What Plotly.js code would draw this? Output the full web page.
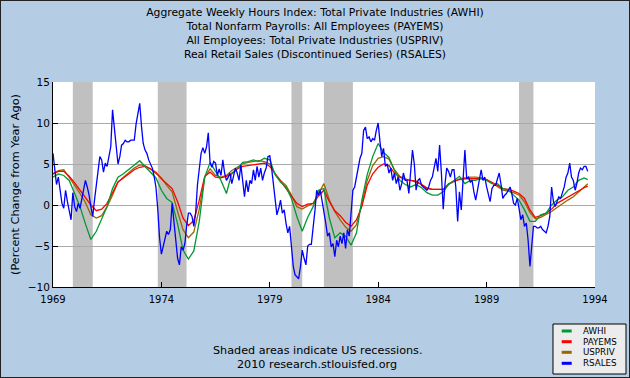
<!DOCTYPE html>
<html><head><meta charset="utf-8">
<script src="https://cdn.plot.ly/plotly-3.0.1.min.js"></script>
<style>
html,body{margin:0;padding:0;background:#fff;}
#chart{width:628px;height:376px;border:1px solid #222;}
</style></head>
<body><div id="chart"></div>
<script>
// ---- DATA ----
const seriesNames = ['AWHI','PAYEMS','USPRIV','RSALES'];
const seriesColors = ['#009933','#ff0000','#996600','#0000ff'];
// RSALES monthly, Jan 1969 .. Sep 1993 (percent change from year ago)
const rsales = [
 6.3,4.0,2.5,3.4,2.0,0.2,-0.4,1.8,0.4,-0.6,-1.8,1.5,
 -0.2,-0.8,0.2,-0.4,0.6,1.6,3.0,2.2,1.2,-0.2,-1.4,0.6,
 2.5,4.3,5.9,5.5,4.0,5.1,4.7,5.9,7.1,11.6,9.5,7.5,
 5.0,5.9,7.3,7.5,7.9,7.7,7.7,7.9,7.9,7.9,9.9,11.1,
 12.4,9.5,7.5,6.7,6.3,5.5,5.0,4.5,3.5,2.2,-0.5,-4.0,
 -6.0,-5.0,-3.8,-3.2,-3.6,-3.0,0.2,-2.0,-4.5,-6.5,-7.3,-5.1,
 -5.5,-4.7,-2.6,-1.0,-1.0,-1.4,-2.6,-1.0,2.5,4.5,6.3,7.0,
 6.3,7.1,8.8,5.1,4.6,5.3,5.1,3.6,4.4,3.6,5.5,3.9,
 3.0,3.4,3.9,2.6,3.4,4.5,3.9,3.0,4.9,2.6,1.0,3.0,
 1.6,3.0,2.6,4.3,3.0,4.7,3.4,4.5,3.0,3.9,4.5,5.9,
 6.0,4.5,2.6,0.2,-1.2,-0.4,0.6,-1.0,-0.6,-2.2,-3.4,-2.6,
 -4.7,-7.5,-8.5,-8.8,-9.0,-7.5,-5.5,-6.5,-7.3,-5.0,-4.8,-4.8,
 -3.0,-0.6,1.8,1.2,1.8,0.6,-0.8,-2.2,-3.8,-3.4,-5.1,-4.7,
 -6.3,-4.3,-5.1,-3.8,-4.7,-3.4,-5.3,-3.0,-3.8,-1.4,1.8,2.2,
 3.4,4.3,5.7,6.3,9.1,9.5,8.1,8.3,7.7,8.1,7.9,9.1,
 10.0,7.7,5.9,6.9,4.7,5.0,3.9,4.5,3.0,3.9,2.6,3.4,
 1.8,2.6,3.9,3.0,3.0,1.4,4.3,6.7,5.0,1.8,3.0,3.2,
 2.4,2.2,2.0,1.8,2.2,3.0,3.4,4.5,5.7,4.1,7.3,3.9,
 -0.5,2.6,4.5,4.1,3.4,4.3,4.3,2.2,-2.0,1.6,-0.6,3.0,
 6.7,3.2,3.4,2.8,3.0,1.6,0.6,1.8,3.4,4.3,3.0,3.4,
 2.2,1.2,0.4,2.0,2.4,2.4,3.2,3.9,2.5,0.8,1.2,1.4,
 1.8,2.2,1.4,0.2,0.0,0.8,-0.4,-1.8,-1.2,-2.6,-2.2,-4.3,
 -7.5,-4.7,-2.6,-2.6,-2.8,-2.8,-2.6,-3.0,-3.2,-3.4,-2.6,-1.4,
 2.2,0.4,-0.2,0.4,1.0,0.8,1.4,2.2,3.4,3.9,5.1,3.4,
 3.0,1.8,2.6,3.9,4.5,4.3,4.7,4.7,4.1
];
// Smoother series, read every 3 months from Jan 1969 plus final Sep 1993
const awhi = [
 3.4,3.8,3.6,3.0,1.4,-0.2,-2.3,-4.2,-3.2,-1.6,-0.2,2.0,
 3.4,3.8,4.3,4.9,5.4,4.7,4.0,3.3,1.8,0.8,0.3,-2.3,
 -5.5,-6.6,-5.6,-2.0,3.4,5.2,4.1,3.0,1.4,3.9,4.4,5.2,
 5.3,5.5,5.3,5.7,5.5,3.7,2.8,2.2,0.8,-1.4,-3.2,-1.5,
 -0.2,1.8,2.0,-1.6,-4.0,-3.4,-3.8,-4.9,-3.4,0.6,3.7,5.9,
 7.5,6.4,5.8,4.2,3.0,2.5,2.2,2.5,2.1,1.5,1.2,1.2,
 1.6,2.5,3.0,3.5,2.6,3.0,3.0,3.3,3.0,2.6,2.6,2.0,
 1.8,1.2,0.6,-0.6,-2.0,-2.0,-1.2,-1.0,0.0,0.6,1.0,1.8,
 2.2,3.0,3.3,3.1
];
const payems = [
 3.8,4.1,4.1,3.5,2.7,1.8,1.0,0.0,-0.7,-0.5,0.2,1.6,
 2.8,3.3,3.8,4.3,4.6,4.7,4.4,4.0,3.2,2.6,2.0,0.4,
 -1.6,-2.5,-1.9,0.6,3.5,4.0,3.4,3.3,3.5,3.8,4.4,4.7,
 4.8,4.9,5.0,5.1,4.7,3.8,2.9,2.1,1.2,0.2,-0.2,0.1,
 0.2,1.1,1.8,0.4,-0.7,-1.3,-2.1,-2.6,-1.8,-0.2,2.4,3.8,
 4.6,5.0,4.8,3.9,3.4,3.1,3.0,2.9,2.5,2.1,1.9,1.9,
 1.9,2.6,2.9,3.1,3.2,3.2,3.2,3.2,3.1,2.8,2.4,2.0,
 1.9,1.7,1.4,0.8,-0.6,-1.5,-1.3,-1.0,-0.5,0.2,0.6,1.0,
 1.4,1.7,2.1,2.3
];
const uspriv = [
 3.8,4.2,4.3,3.4,2.4,1.4,0.3,-1.2,-1.6,-1.3,-0.2,1.2,
 2.8,3.4,4.0,4.5,4.9,4.8,4.4,3.9,3.3,2.4,1.6,-0.8,
 -3.0,-4.0,-3.3,-0.5,3.4,4.4,3.6,3.4,3.6,4.2,4.6,5.0,
 5.2,5.3,5.4,5.3,5.0,3.8,3.0,2.4,1.2,-0.2,-0.5,-0.1,
 0.2,1.4,2.6,0.6,-0.8,-1.8,-2.7,-3.2,-2.4,0.2,3.0,4.8,
 5.7,5.9,5.6,4.3,3.5,3.2,3.0,2.8,2.5,2.0,1.9,1.9,
 1.9,2.5,2.9,3.2,3.3,3.4,3.4,3.3,3.1,2.7,2.2,1.8,
 1.7,1.5,1.2,0.4,-0.9,-1.7,-1.5,-1.2,-0.8,-0.3,0.2,0.6,
 1.0,1.6,2.3,2.6
];
// NBER recessions [start, end]
const recessions = [
 ['1969-12-01','1970-11-01'],
 ['1973-11-01','1975-03-01'],
 ['1980-01-01','1980-07-01'],
 ['1981-07-01','1982-11-01'],
 ['1990-07-01','1991-03-01']
];
const xTickYears = [1969,1974,1979,1984,1989,1994];
const titleLines = [
 'Aggregate Weekly Hours Index: Total Private Industries (AWHI)',
 'Total Nonfarm Payrolls: All Employees (PAYEMS)',
 'All Employees: Total Private Industries (USPRIV)',
 'Real Retail Sales (Discontinued Series) (RSALES)'
];
const yTitle = '(Percent Change from Year Ago)';
const footer = ['Shaded areas indicate US recessions.','2010 research.stlouisfed.org'];

// ---- helpers ----
function monthDate(m){
  const y = 1969 + Math.floor(m/12), mo = (m%12)+1;
  return y + '-' + String(mo).padStart(2,'0') + '-01';
}
const monthlyX = rsales.map((_,i)=>monthDate(i));
const smoothIdx = [];
for(let i=0;i<99;i++) smoothIdx.push(i*3);
smoothIdx.push(296);
const smoothX = smoothIdx.map(monthDate);

const FONT = 'DejaVu Sans, Verdana, sans-serif';
const seriesData = [awhi, payems, uspriv, rsales];
const traces = seriesData.map((vals,i)=>({
  type:'scatter', mode:'lines', name:seriesNames[i],
  x: i===3 ? monthlyX : smoothX, y: vals,
  line:{color:seriesColors[i], width:1.3}, showlegend:false,
  hoverinfo:'skip'
}));
// draw order: USPRIV, PAYEMS, AWHI, RSALES (RSALES on top)
const ordered = [traces[2], traces[1], traces[0], traces[3]];

const shapes = recessions.map(r=>({
  type:'rect', xref:'x', yref:'paper', x0:r[0], x1:r[1], y0:0, y1:1,
  fillcolor:'#c0c0c0', line:{width:0}, layer:'below'
}));
// custom legend box
const lgX0 = 0.9225, lgX1 = 1.0572, lgY0 = -0.1805, lgY1 = -0.4244;
shapes.push({type:'rect', xref:'paper', yref:'paper', x0:lgX0, x1:lgX1, y0:lgY0, y1:lgY1,
  fillcolor:'#ececec', line:{color:'#000', width:1}});
const lgRows = [-0.2146,-0.2668,-0.3185,-0.3722];
const annotations = [];
seriesNames.forEach((n,i)=>{
  shapes.push({type:'line', xref:'paper', yref:'paper', x0:0.9386, x1:0.957, y0:lgRows[i], y1:lgRows[i],
    line:{color:seriesColors[i], width:3}});
  annotations.push({xref:'paper', yref:'paper', x:0.974, y:lgRows[i], xanchor:'left', yanchor:'middle',
    text:n, showarrow:false, font:{family:FONT, size:8.7, color:'#000'}});
});
annotations.push({xref:'paper', yref:'paper', x:0.488, y:-0.312, xanchor:'center', yanchor:'middle',
  text:footer[0], showarrow:false, font:{family:FONT, size:11.2, color:'#000'}});
annotations.push({xref:'paper', yref:'paper', x:0.488, y:-0.380, xanchor:'center', yanchor:'middle',
  text:footer[1], showarrow:false, font:{family:FONT, size:11.2, color:'#000'}});

const layout = {
  width:628, height:376,
  paper_bgcolor:'#b4cce4', plot_bgcolor:'#ffffff',
  margin:{l:52, r:34, t:81, b:90},
  font:{family:FONT, size:10, color:'#000'},
  title:{text:titleLines.join('<br>'), x:0.5, xref:'container', xanchor:'center',
    y:0.96, yref:'container', yanchor:'top', font:{family:FONT, size:10.8, color:'#000'}},
  xaxis:{type:'date', range:['1969-01-01','1994-01-01'],
    tickvals:xTickYears.map(y=>y+'-01-01'), ticktext:xTickYears.map(String),
    ticks:'inside', ticklen:5, tickcolor:'#000', showgrid:false, zeroline:false,
    ticklabelstandoff:3,
    showline:true, linecolor:'#000', linewidth:1, tickfont:{family:FONT, size:10}},
  yaxis:{range:[-10,15], tickvals:[-10,-5,0,5,10,15], ticks:'inside', ticklen:5, tickcolor:'#000',
    showgrid:true, gridcolor:'#aaaaaa', gridwidth:1, zeroline:false,
    showline:true, linecolor:'#000', linewidth:1, tickfont:{family:FONT, size:10.5},
    title:{text:yTitle, standoff:5, font:{family:FONT, size:11.3}}},
  shapes:shapes, annotations:annotations, showlegend:false
};
Plotly.newPlot('chart', ordered, layout, {displayModeBar:false, staticPlot:true});
</script></body></html>
